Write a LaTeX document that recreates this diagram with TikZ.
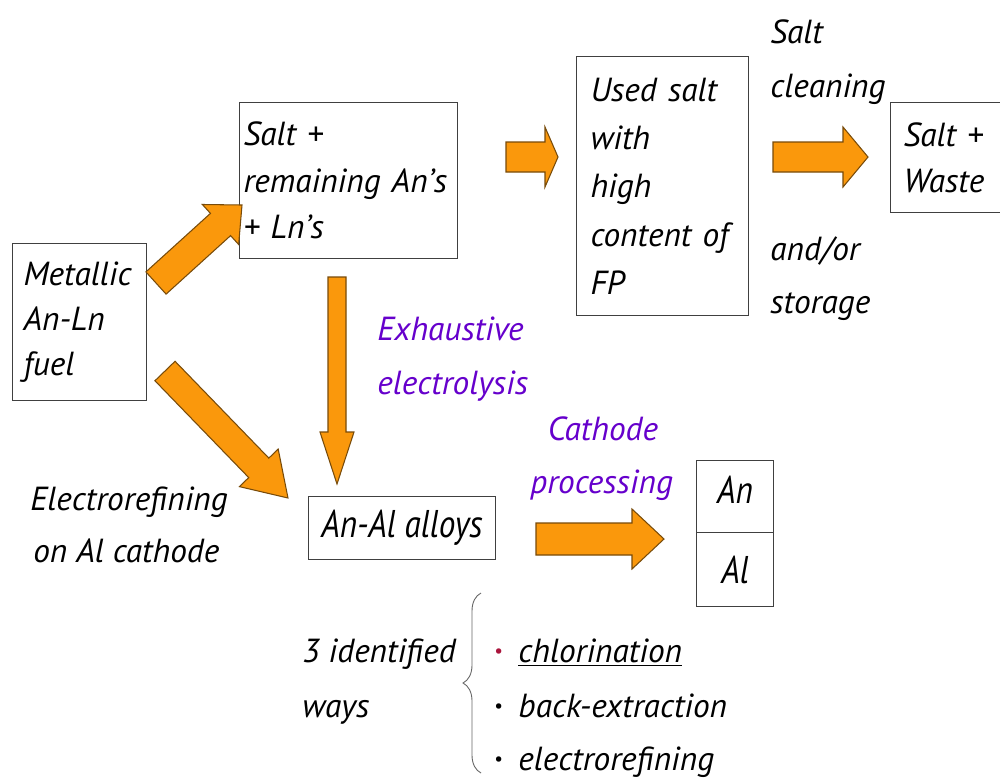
\documentclass[tikz,border=0pt]{standalone}
\usepackage{fontspec}
\setmainfont{PT Sans}
\newfontfamily\narrowfont[FakeStretch=0.86]{PT Sans}
\usetikzlibrary{calc,decorations.pathreplacing}

\definecolor{arrowfill}{RGB}{250,152,12}
\definecolor{arrowline}{RGB}{120,75,10}
\definecolor{procviolet}{RGB}{102,0,204}
\definecolor{bulletred}{RGB}{170,20,60}

% block arrow: tail, tip, shaft half-width, head half-width, head length (all in px)
\newcommand{\fatarrow}[5]{%
  \coordinate (fa-base) at ($(#2)!#5*0.02cm!(#1)$);
  \draw[fatarrow]
    ($(#1)!#3*0.02cm!90:(#2)$) -- ($(fa-base)!#3*0.02cm!90:(#2)$)
    -- ($(fa-base)!#4*0.02cm!90:(#2)$) -- (#2)
    -- ($(fa-base)!#4*0.02cm!-90:(#2)$) -- ($(fa-base)!#3*0.02cm!-90:(#2)$)
    -- ($(#1)!#3*0.02cm!-90:(#2)$) -- cycle;}

\begin{document}
\begin{tikzpicture}[x=0.02cm, y=-0.02cm,
    every node/.style={font=\fontsize{19}{26}\selectfont\itshape, inner sep=0pt},
    box/.style={draw=black!75, line width=0.6pt, anchor=north west, align=left},
    bigbox/.style={box, align=center, font=\narrowfont\fontsize{22}{26}\selectfont\itshape},
    lbl/.style={anchor=base west},
    proc/.style={lbl, text=procviolet},
    dot/.style={anchor=base west, font=\fontsize{11}{11}\selectfont},
    fatarrow/.style={fill=arrowfill, draw=arrowline, line width=0.6pt, line join=miter}]
  \clip (0,0) rectangle (1000,779);
  \fill[white] (0,0) rectangle (1000,779);

  % boxes
  \node[box, inner xsep=0.22cm, text width=2.24cm, minimum height=3.14cm,
    font=\fontsize{19}{25.5}\selectfont\itshape] (fuel) at (12,243)
    {Metallic\\An-Ln\\fuel\\[-0.2cm]};
  \node[box, inner xsep=0.08cm, text width=4.2cm, minimum height=3.12cm,
    font=\fontsize{19}{26.5}\selectfont\itshape] (salt) at (239,102)
    {Salt +\\remaining An's\\+ Ln's};
  \node[box, inner xsep=0.28cm, text width=2.88cm, minimum height=5.18cm,
    font=\fontsize{19}{27.5}\selectfont\itshape] (used) at (576,56)
    {Used salt\\with\\high\\content of\\FP};
  \node[box, inner xsep=0.26cm, text width=1.88cm, minimum height=2.2cm] (waste) at (890,102)
    {Salt +\\Waste};
  \node[bigbox, minimum width=3.74cm, minimum height=1.26cm] (alloy) at (308,496) {An-Al alloys};
  \node[bigbox, minimum width=1.54cm, minimum height=1.44cm, text depth=0.26cm] (an) at (696,460) {An};
  \node[bigbox, minimum width=1.54cm, minimum height=1.48cm] (al) at (696,532) {Al};

  % labels
  \node[lbl] (salt-lbl) at (770,43) {Salt};
  \node[lbl] (clean-lbl) at (770,97) {cleaning};
  \node[lbl] (andor-lbl) at (770,260) {and/or};
  \node[lbl] (store-lbl) at (770,313) {storage};
  \node[proc] (exh-lbl) at (377,340) {Exhaustive};
  \node[proc] (elec-lbl) at (377,394) {electrolysis};
  \node[proc, anchor=base] (cath-lbl) at (603,440) {Cathode};
  \node[proc] (procs-lbl) at (530,493) {processing};
  \node[lbl] (erf-lbl) at (30,510) {Electrorefining};
  \node[lbl] (oncath-lbl) at (33,562) {on Al cathode};
  \node[lbl] (ways1-lbl) at (302,662) {3 identified};
  \node[lbl] (ways2-lbl) at (302,717) {ways};

  % the three ways
  \node[dot, text=bulletred] (dot1) at (494,657) {•};
  \node[dot] (dot2) at (494,712) {•};
  \node[dot] (dot3) at (494,765) {•};
  \node[lbl] (chlor) at (518,662) {\underline{chlorination}};
  \node[lbl] (backex) at (518,717) {back-extraction};
  \node[lbl] (erefine) at (518,770) {electrorefining};

  \coordinate (br-top) at (481,593);
  \coordinate (br-bot) at (481,773);
  \draw[black!60, line width=0.5pt, decorate, decoration={brace, amplitude=0.36cm}]
    (br-bot) -- (br-top);

  % arrow ends
  \coordinate (up-tail) at (156,283);   \coordinate (up-tip) at (242,205);
  \coordinate (dn-tail) at (165,371);   \coordinate (dn-tip) at (288,498);
  \coordinate (ex-tail) at (337,277);   \coordinate (ex-tip) at (337,484);
  \coordinate (fp-tail) at (506,157);   \coordinate (fp-tip) at (558,157);
  \coordinate (cl-tail) at (773,157);   \coordinate (cl-tip) at (868,157);
  \coordinate (cp-tail) at (536,539);   \coordinate (cp-tip) at (664,539);

  \fatarrow{up-tail}{up-tip}{15}{27}{29}
  \fatarrow{dn-tail}{dn-tip}{14}{27}{42}
  \fatarrow{ex-tail}{ex-tip}{9}{17}{52}
  \fatarrow{fp-tail}{fp-tip}{15}{30}{13}
  \fatarrow{cl-tail}{cl-tip}{15}{30}{25}
  \fatarrow{cp-tail}{cp-tip}{16}{30}{32}
\end{tikzpicture}
\end{document}
